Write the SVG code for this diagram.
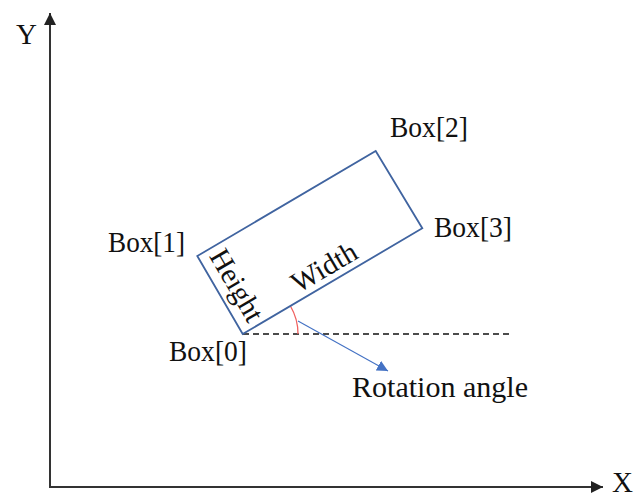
<svg xmlns="http://www.w3.org/2000/svg" width="644" height="499" viewBox="0 0 644 499">
<style>
.lbl{font-family:"Liberation Serif","Times New Roman",serif;font-size:29px;fill:#111}
.axis{stroke:#333;stroke-width:2;fill:none}
</style>
<defs>
<marker id="ah" markerWidth="12" markerHeight="12" refX="10" refY="5" orient="auto" markerUnits="userSpaceOnUse" viewBox="0 0 10 10">
<path d="M0,0 L10,5 L0,10 z" fill="#222"/>
</marker>
<marker id="bh" markerWidth="11" markerHeight="11" refX="10" refY="5" orient="auto" markerUnits="userSpaceOnUse" viewBox="0 0 10 10">
<path d="M0,0 L10,5 L0,10 z" fill="#4472c4"/>
</marker>
</defs>
<rect width="644" height="499" fill="#fff"/>
<g id="connectors">
<line class="axis" x1="50" y1="488" x2="50" y2="13" marker-end="url(#ah)"/>
<line class="axis" x1="49" y1="487" x2="603" y2="487" marker-end="url(#ah)"/>
<line x1="243" y1="334" x2="510" y2="334" stroke="#111" stroke-width="1.5" stroke-dasharray="6,4"/>
<path d="M290.4,306 A55,55 0 0 1 298,334" fill="none" stroke="#f0605f" stroke-width="1.3"/>
<line x1="298" y1="321" x2="388" y2="371" stroke="#4472c4" stroke-width="1.1" marker-end="url(#bh)"/>
</g>
<g id="box">
<polygon points="242.7,334 197.3,256 375.7,151 422.3,228.3" fill="none" stroke="#4064a0" stroke-width="1.8"/>
<text class="lbl" text-anchor="middle" font-size="28" transform="translate(228.5,290) rotate(59.8)">Height</text>
<text class="lbl" text-anchor="middle" font-size="28" transform="translate(329,275.5) rotate(-30.5)">Width</text>
</g>
<g id="axis-labels">
<text class="lbl" x="16" y="44">Y</text>
<text class="lbl" x="612" y="492" font-size="28">X</text>
</g>
<g id="box0"><text class="lbl" x="169" y="361" textLength="78" lengthAdjust="spacingAndGlyphs">Box[0]</text></g>
<g id="box1"><text class="lbl" x="108" y="252" textLength="77" lengthAdjust="spacingAndGlyphs">Box[1]</text></g>
<g id="box2"><text class="lbl" x="390" y="137" textLength="78" lengthAdjust="spacingAndGlyphs">Box[2]</text></g>
<g id="box3"><text class="lbl" x="434" y="237" textLength="78" lengthAdjust="spacingAndGlyphs">Box[3]</text></g>
<g id="rotation"><text class="lbl" x="352" y="397" textLength="176" lengthAdjust="spacingAndGlyphs">Rotation angle</text></g>
</svg>
